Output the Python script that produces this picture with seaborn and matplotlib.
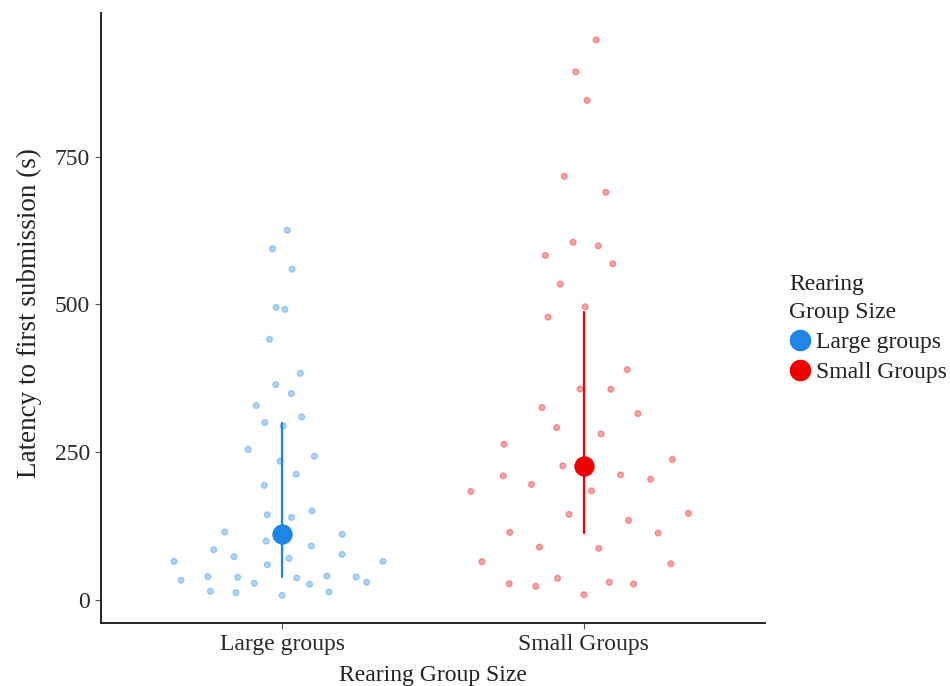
import numpy as np
import pandas as pd
import matplotlib
matplotlib.use("Agg")
import matplotlib.pyplot as plt
from matplotlib.lines import Line2D
import seaborn as sns

# Latency to first submission (s) per rearing group
groups = ["Large groups", "Small Groups"]

large_latency = [
    625.5, 594.1, 559.6, 495.0, 491.6, 440.9, 383.4, 364.4, 349.2, 328.9,
    309.6, 300.2, 294.4, 254.6, 243.2, 234.8, 212.8, 193.8, 150.8, 144.1,
    139.7, 114.9, 111.0, 99.7, 91.2, 85.0, 77.2, 73.1, 70.4, 65.4,
    65.4, 59.6, 40.5, 39.4, 38.9, 38.3, 37.2, 33.3, 29.9, 28.2,
    26.5, 14.7, 13.5, 12.3, 7.9,
]

small_latency = [
    947.6, 893.6, 845.1, 716.7, 689.7, 605.2, 599.2, 582.8, 568.8, 534.3,
    496.1, 478.5, 389.7, 356.9, 356.4, 325.5, 315.4, 291.7, 280.9, 263.5,
    237.7, 226.9, 211.7, 210.0, 204.4, 195.4, 184.6, 183.6, 146.5, 144.8,
    134.6, 114.4, 113.2, 89.5, 87.3, 64.7, 61.3, 36.7, 29.9, 27.5,
    27.0, 23.1, 9.0,
]

y_ticks = [0, 250, 500, 750]


def van_der_corput(n, base=2):
    seq = []
    for i in range(1, n + 1):
        v, denom, k = 0.0, 1.0, i
        while k > 0:
            k, rem = divmod(k, base)
            denom *= base
            v += rem / denom
        seq.append(v)
    return np.array(seq)


def quasirandom_offsets(y, width=0.4, adjust=0.5, n_grid=1024):
    """Density-scaled quasirandom horizontal offsets (beeswarm-style)."""
    y = np.asarray(y, dtype=float)
    n = len(y)
    sd = y.std(ddof=1)
    iqr = np.subtract(*np.percentile(y, [75, 25]))
    lo = min(sd, iqr / 1.34) if iqr > 0 else sd
    bw = 0.9 * lo * n ** (-0.2) * adjust
    grid = np.linspace(y.min() - 3 * bw, y.max() + 3 * bw, n_grid)
    dens = np.exp(-0.5 * ((grid[:, None] - y[None, :]) / bw) ** 2).sum(axis=1)
    dens /= dens.max()
    scale = np.interp(y, grid, dens)
    ranks = np.empty(n, dtype=int)
    ranks[np.argsort(y, kind="stable")] = np.arange(n)
    offset = van_der_corput(n)[ranks]
    return (offset - 0.5) * 2 * width * scale


frames = []
for i, (g, vals) in enumerate(zip(groups, [large_latency, small_latency])):
    frames.append(pd.DataFrame({
        "group": g,
        "latency": vals,
        "pos": float(i),
        "xpos": i + quasirandom_offsets(vals),
    }))
df = pd.concat(frames, ignore_index=True)

palette = {"Large groups": "#1E84E6", "Small Groups": "#F20000"}

sns.set_style("white")
plt.rcParams["font.family"] = ["Liberation Serif", "DejaVu Serif"]

fig = plt.figure(figsize=(9.5, 6.86), dpi=100)
ax = fig.add_axes([0.1063, 0.0918, 0.6990, 0.8892])

# Individual observations
sns.scatterplot(
    data=df, x="xpos", y="latency", hue="group", hue_order=groups,
    palette=palette, s=18, alpha=0.35, linewidth=0.9, legend=False,
    ax=ax, zorder=2,
)
# Edges take the fill colour so the translucent ring reads darker than the centre
for coll in ax.collections:
    coll.set_edgecolor(coll.get_facecolor())

# Median with interquartile range
sns.pointplot(
    data=df, x="pos", y="latency", hue="group", hue_order=groups,
    palette=palette, estimator="median", errorbar=("pi", 50),
    native_scale=True, linestyle="none", markersize=14,
    markeredgewidth=0.6, err_kws={"linewidth": 1.6}, legend=False,
    ax=ax, zorder=4,
)
for line in ax.lines:
    line.set_zorder(4)

ax.set_xlim(-0.6, 1.6)
ax.set_xticks([0, 1])
ax.set_xticklabels(groups)
ax.set_ylim(-39, 993)
ax.set_yticks(y_ticks)
ax.set_yticklabels([str(t) for t in y_ticks])

ax.set_xlabel("Rearing Group Size", fontsize=17, color="#222222", labelpad=7)
ax.set_ylabel("Latency to first submission (s)", fontsize=19.5,
              color="#222222", labelpad=8)
ax.yaxis.set_label_coords(-0.089, 0.508)
ax.tick_params(axis="both", which="major", labelsize=17, labelcolor="#2a2a2a",
               length=4, width=0.8, color="#555555", direction="out", pad=4,
               left=True, bottom=True)

for side in ["top", "right"]:
    ax.spines[side].set_visible(False)
for side in ["left", "bottom"]:
    ax.spines[side].set_color("#222222")
    ax.spines[side].set_linewidth(1.4)

handles = [
    Line2D([0], [0], marker="o", linestyle="none", markersize=14.5,
           markerfacecolor=palette[g], markeredgecolor=palette[g], label=g)
    for g in groups
]
leg = ax.legend(
    handles=handles, title="Rearing\nGroup Size", loc="center left",
    bbox_to_anchor=(1.022, 0.483), frameon=False, fontsize=17,
    title_fontsize=17, handlelength=0.95, handletextpad=0.2,
    labelspacing=0.36, borderaxespad=0.0,
)
leg._legend_box.align = "left"
leg.get_title().set_linespacing(1.45)
for t in leg.get_texts():
    t.set_color("#222222")
leg.get_title().set_color("#222222")

fig.savefig("out.png", dpi=100)
